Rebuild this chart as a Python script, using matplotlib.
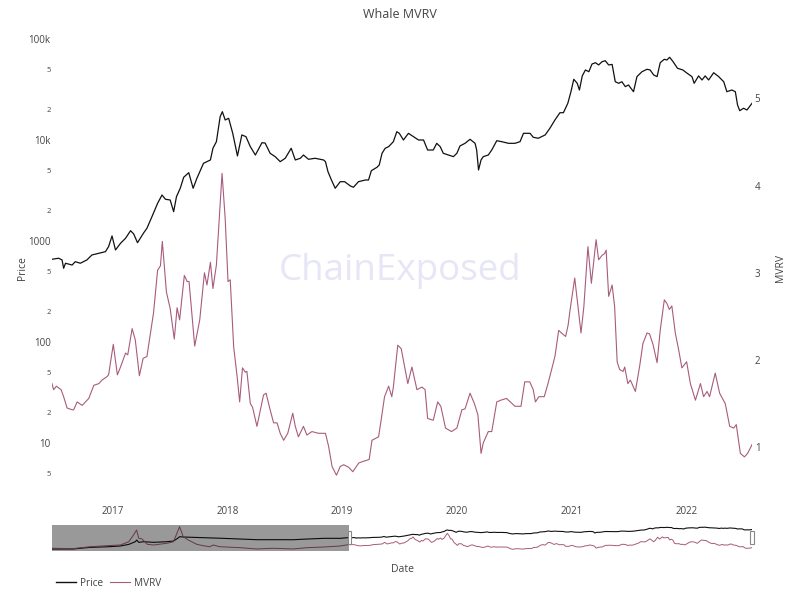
import matplotlib
matplotlib.use("Agg")
import matplotlib.pyplot as plt
import matplotlib.dates as mdates
from matplotlib.patches import Rectangle
from matplotlib.lines import Line2D
from matplotlib.transforms import blended_transform_factory
import pandas as pd

plt.rcParams['font.family'] = ['Open Sans', 'DejaVu Sans']

# MVRV in the visible range
mvrv_dates = [
    '2016-06-22', '2016-06-27', '2016-07-06', '2016-07-21', '2016-07-29', '2016-08-09', '2016-08-25',
    '2016-08-30', '2016-09-10', '2016-09-26', '2016-10-17', '2016-11-02', '2016-11-18', '2016-11-28',
    '2016-12-14', '2016-12-19', '2017-01-03', '2017-01-16', '2017-01-26', '2017-02-11', '2017-02-18',
    '2017-03-04', '2017-03-14', '2017-03-27', '2017-04-08', '2017-04-20', '2017-05-11', '2017-05-24',
    '2017-06-02', '2017-06-08', '2017-06-21', '2017-07-03', '2017-07-16', '2017-07-25', '2017-08-02',
    '2017-08-17', '2017-08-26', '2017-09-01', '2017-09-19', '2017-10-05', '2017-10-20', '2017-10-28',
    '2017-11-08', '2017-11-16', '2017-11-27', '2017-12-15', '2017-12-25', '2018-01-03', '2018-01-10',
    '2018-01-21', '2018-02-01', '2018-02-09', '2018-02-18', '2018-02-27', '2018-03-04', '2018-03-15',
    '2018-03-22', '2018-04-05', '2018-04-26', '2018-05-04', '2018-05-17', '2018-05-28', '2018-06-08',
    '2018-06-18', '2018-06-29', '2018-07-12', '2018-07-28', '2018-08-05', '2018-08-15', '2018-08-31',
    '2018-09-11', '2018-09-27', '2018-10-18', '2018-11-09', '2018-11-19', '2018-11-30', '2018-12-14',
    '2018-12-26', '2019-01-06', '2019-01-22', '2019-02-04', '2019-02-23', '2019-03-10', '2019-03-28',
    '2019-04-06', '2019-04-27', '2019-05-05', '2019-05-16', '2019-05-29', '2019-06-08', '2019-06-13',
    '2019-06-27', '2019-07-08', '2019-07-29', '2019-08-11', '2019-08-27', '2019-09-12', '2019-09-22',
    '2019-09-30', '2019-10-18', '2019-11-01', '2019-11-11', '2019-11-26', '2019-12-15', '2020-01-01',
    '2020-01-17', '2020-01-27', '2020-02-12', '2020-02-26', '2020-03-08', '2020-03-18', '2020-03-25',
    '2020-04-10', '2020-04-21', '2020-05-07', '2020-05-20', '2020-06-07', '2020-07-04', '2020-07-23',
    '2020-08-04', '2020-08-20', '2020-08-31', '2020-09-07', '2020-09-18', '2020-10-05', '2020-10-17',
    '2020-11-08', '2020-11-20', '2020-11-29', '2020-12-12', '2020-12-20', '2020-12-26', '2021-01-10',
    '2021-01-21', '2021-01-30', '2021-02-08', '2021-02-21', '2021-03-04', '2021-03-19', '2021-03-27',
    '2021-04-07', '2021-04-15', '2021-04-20', '2021-04-28', '2021-05-09', '2021-05-17', '2021-05-25',
    '2021-06-02', '2021-06-13', '2021-06-18', '2021-06-28', '2021-07-06', '2021-07-22', '2021-08-05',
    '2021-08-15', '2021-08-28', '2021-09-05', '2021-09-16', '2021-09-29', '2021-10-09', '2021-10-22',
    '2021-10-30', '2021-11-07', '2021-11-15', '2021-11-26', '2021-12-06', '2021-12-17', '2022-01-01',
    '2022-01-13', '2022-01-29', '2022-02-14', '2022-02-24', '2022-03-07', '2022-03-15', '2022-04-02',
    '2022-04-16', '2022-05-04', '2022-05-18', '2022-05-31', '2022-06-08', '2022-06-21', '2022-07-04',
    '2022-07-14', '2022-07-28',
]
mvrv_values = [
    1.73, 1.66, 1.70, 1.66, 1.58, 1.45, 1.43,
    1.43, 1.52, 1.48, 1.56, 1.71, 1.73, 1.77,
    1.81, 1.83, 2.18, 1.83, 1.92, 2.08, 2.06,
    2.36, 2.23, 1.82, 2.02, 2.04, 2.54, 3.03,
    3.08, 3.36, 2.78, 2.59, 2.24, 2.60, 2.46,
    2.97, 2.90, 2.90, 2.16, 2.46, 3.00, 2.86,
    3.12, 2.82, 3.09, 4.14, 3.62, 2.90, 2.92,
    2.15, 1.81, 1.52, 1.91, 1.86, 1.87, 1.50,
    1.46, 1.24, 1.60, 1.62, 1.43, 1.28, 1.28,
    1.16, 1.08, 1.16, 1.39, 1.24, 1.12, 1.24,
    1.14, 1.18, 1.16, 1.16, 1.01, 0.78, 0.68,
    0.78, 0.80, 0.77, 0.72, 0.82, 0.84, 0.86,
    1.08, 1.12, 1.31, 1.58, 1.70, 1.58, 1.69,
    2.17, 2.13, 1.73, 1.92, 1.66, 1.69, 1.66,
    1.33, 1.31, 1.52, 1.47, 1.22, 1.18, 1.22,
    1.43, 1.44, 1.62, 1.50, 1.37, 0.93, 1.05,
    1.18, 1.18, 1.52, 1.54, 1.56, 1.47, 1.47,
    1.75, 1.75, 1.66, 1.52, 1.58, 1.58, 1.73,
    2.04, 2.34, 2.31, 2.27, 2.40, 2.57, 2.94,
    2.59, 2.31, 2.61, 3.30, 2.88, 3.38, 3.15,
    3.20, 3.22, 3.26, 2.73, 2.86, 2.61, 1.98,
    1.89, 1.87, 1.92, 1.73, 1.77, 1.64, 1.94,
    2.19, 2.31, 2.30, 2.18, 1.97, 2.34, 2.69,
    2.65, 2.58, 2.62, 2.31, 2.13, 1.91, 1.98,
    1.73, 1.54, 1.73, 1.58, 1.64, 1.58, 1.85,
    1.62, 1.50, 1.24, 1.22, 1.26, 0.93, 0.89,
    0.93, 1.03,
]

# Price in the visible range
price_dates = [
    '2016-06-22', '2016-07-13', '2016-07-24', '2016-07-29', '2016-08-04', '2016-08-25', '2016-09-04',
    '2016-09-20', '2016-10-11', '2016-10-27', '2016-11-18', '2016-12-09', '2016-12-19', '2016-12-30',
    '2017-01-10', '2017-01-26', '2017-02-11', '2017-02-27', '2017-03-09', '2017-03-21', '2017-04-10',
    '2017-04-20', '2017-05-06', '2017-05-24', '2017-06-07', '2017-06-18', '2017-07-03', '2017-07-14',
    '2017-07-23', '2017-08-04', '2017-08-15', '2017-08-31', '2017-09-14', '2017-09-26', '2017-10-17',
    '2017-11-08', '2017-11-16', '2017-11-27', '2017-12-09', '2017-12-16', '2017-12-25', '2018-01-05',
    '2018-01-18', '2018-02-02', '2018-02-16', '2018-03-01', '2018-03-15', '2018-03-31', '2018-04-21',
    '2018-05-01', '2018-05-17', '2018-06-02', '2018-06-18', '2018-07-04', '2018-07-23', '2018-08-05',
    '2018-08-21', '2018-08-31', '2018-09-16', '2018-10-07', '2018-11-03', '2018-11-09', '2018-11-17',
    '2018-11-28', '2018-12-10', '2018-12-26', '2019-01-09', '2019-01-27', '2019-02-06', '2019-02-22',
    '2019-03-16', '2019-03-26', '2019-04-04', '2019-04-22', '2019-04-29', '2019-05-08', '2019-05-18',
    '2019-05-29', '2019-06-13', '2019-06-24', '2019-07-02', '2019-07-15', '2019-07-31', '2019-08-16',
    '2019-09-01', '2019-09-17', '2019-09-30', '2019-10-18', '2019-10-29', '2019-11-09', '2019-11-19',
    '2019-12-05', '2019-12-21', '2020-01-01', '2020-01-11', '2020-01-27', '2020-02-12', '2020-02-28',
    '2020-03-04', '2020-03-10', '2020-03-18', '2020-03-25', '2020-04-10', '2020-04-21', '2020-05-07',
    '2020-05-23', '2020-06-13', '2020-07-04', '2020-07-20', '2020-07-31', '2020-08-21', '2020-08-31',
    '2020-09-16', '2020-10-08', '2020-10-23', '2020-11-08', '2020-11-24', '2020-12-05', '2020-12-19',
    '2020-12-29', '2021-01-07', '2021-01-18', '2021-01-25', '2021-02-03', '2021-02-13', '2021-02-24',
    '2021-03-06', '2021-03-17', '2021-03-27', '2021-04-07', '2021-04-17', '2021-04-28', '2021-05-09',
    '2021-05-19', '2021-05-30', '2021-06-09', '2021-06-20', '2021-06-30', '2021-07-16', '2021-07-27',
    '2021-08-12', '2021-08-28', '2021-09-07', '2021-09-18', '2021-09-29', '2021-10-09', '2021-10-22',
    '2021-10-30', '2021-11-08', '2021-11-19', '2021-12-03', '2021-12-20', '2022-01-03', '2022-01-18',
    '2022-01-25', '2022-02-08', '2022-02-19', '2022-03-01', '2022-03-12', '2022-03-28', '2022-04-13',
    '2022-04-29', '2022-05-09', '2022-05-25', '2022-06-05', '2022-06-12', '2022-06-19', '2022-07-01',
    '2022-07-12', '2022-07-28',
]
price_values = [
    659, 675, 649, 537, 602, 578, 624,
    602, 649, 727, 755, 784, 879, 1122,
    815, 949, 1064, 1265, 1172, 962, 1208,
    1336, 1741, 2362, 2852, 2588, 2547, 1950,
    2748, 3327, 4276, 4745, 3327, 4178, 5877,
    6340, 8280, 9620, 17020, 19070, 15780, 16400,
    11640, 6950, 11220, 10790, 8590, 7100, 9400,
    9330, 7380, 6840, 6100, 6590, 8280, 6340,
    6590, 7100, 6440, 6590, 6340, 6100, 4853,
    4017, 3327, 3865, 3865, 3508, 3404, 3865,
    4017, 4017, 4966, 5370, 5650, 7380, 8280,
    8590, 9620, 12080, 11640, 10000, 11640, 10790,
    10000, 10000, 7960, 7960, 9270, 8590, 7380,
    7100, 6840, 7380, 8730, 9270, 10160, 9270,
    7960, 5050, 6340, 6840, 7100, 7960, 9840,
    9620, 9270, 9270, 9620, 11640, 11640, 10640,
    10400, 11220, 13060, 15780, 18620, 18620, 23070,
    30060, 39900, 36400, 31260, 43100, 49350, 47440,
    56490, 58250, 55330, 59560, 60950, 55330, 56000,
    37760, 36400, 37760, 33730, 35070, 30060, 42400,
    47440, 50120, 49350, 44060, 42400, 58250, 62950,
    61950, 65890, 59560, 51290, 49350, 45710, 42400,
    36400, 43100, 39280, 43100, 39280, 46350, 42400,
    37760, 30060, 31260, 30060, 22230, 19500, 20610,
    19820, 23070,
]

# earlier history, only shown in the range slider
early_mvrv_dates = [
    '2011-12-20', '2012-04-15', '2012-07-20', '2012-10-20', '2013-01-01', '2013-02-17', '2013-03-15',
    '2013-04-01', '2013-04-13', '2013-05-01', '2013-05-30', '2013-07-05', '2013-09-15', '2013-10-22',
    '2013-11-10', '2013-11-25', '2013-12-15', '2014-01-12', '2014-02-28', '2014-04-04', '2014-05-11',
    '2014-05-30', '2014-07-05', '2014-10-26', '2015-01-26', '2015-04-26', '2015-08-17', '2015-10-30',
    '2016-01-30', '2016-05-01',
]
early_mvrv = [
    0.90, 0.83, 1.24, 1.46, 1.61, 2.32, 3.78,
    4.86, 3.06, 2.92, 1.76, 1.61, 1.98, 2.32,
    4.14, 5.57, 3.41, 2.69, 1.76, 1.46, 1.24,
    1.61, 1.24, 1.03, 0.75, 0.90, 0.75, 1.03,
    1.17, 1.39,
]
early_price_dates = [
    '2011-12-20', '2012-04-15', '2012-07-20', '2012-10-20', '2013-01-01', '2013-02-17', '2013-03-25',
    '2013-04-02', '2013-04-13', '2013-05-11', '2013-07-05', '2013-09-15', '2013-10-22', '2013-11-14',
    '2013-11-25', '2013-12-18', '2014-02-10', '2014-04-22', '2014-07-24', '2014-10-26', '2015-01-26',
    '2015-04-26', '2015-08-17', '2015-10-30', '2016-01-30', '2016-05-01', '2016-06-10',
]
early_price = [
    4.5, 4.6, 9.5, 12, 17, 35, 112,
    234, 85, 112, 85, 112, 150, 490,
    1000, 870, 760, 650, 490, 360, 270,
    270, 270, 360, 490, 490, 650,
]

price_ticks = [5, 10, 20, 50, 100, 200, 500, 1000, 2000, 5000, 10000, 20000, 50000, 100000]
price_labels = ['5', '10', '2', '5', '100', '2', '5', '1000', '2', '5', '10k', '2', '5', '100k']
mvrv_ticks = [1, 2, 3, 4, 5]
year_ticks = ['2017-01-01', '2018-01-01', '2019-01-01', '2020-01-01', '2021-01-01', '2022-01-01']

PRICE_COLOR = '#111111'
MVRV_COLOR = '#a85c7c'
TEXT_COLOR = '#444444'

md = pd.to_datetime(mvrv_dates)
pd_ = pd.to_datetime(price_dates)

fig = plt.figure(figsize=(8, 5.94), dpi=100)
W, H = 800, 594

# main panel
ax = fig.add_axes([52 / W, (H - 495) / H, 700 / W, 465 / H])
ax2 = ax.twinx()

ax.plot(pd_, price_values, color=PRICE_COLOR, lw=0.9, zorder=3)
ax2.plot(md, mvrv_values, color=MVRV_COLOR, lw=0.8, zorder=2)

ax.set_yscale('log')
ax.set_ylim(10 ** 0.485, 10 ** 5.089)
ax.yaxis.set_minor_locator(plt.NullLocator())
ax.set_yticks(price_ticks)
ax.set_yticklabels(price_labels)
for lab in ax.get_yticklabels():
    lab.set_fontsize(5.5 if lab.get_text() in ('2', '5') else 7)

ax2.set_ylim(0.453, 5.783)
ax2.set_yticks(mvrv_ticks)
ax2.set_yticklabels([str(t) for t in mvrv_ticks])

ax.set_xlim(md.min(), md.max())
ax.set_xticks(pd.to_datetime(year_ticks))
ax.xaxis.set_major_formatter(mdates.DateFormatter('%Y'))
ax.xaxis.set_minor_locator(plt.NullLocator())

ax.tick_params(axis='x', length=0, pad=8, labelsize=7, colors=TEXT_COLOR)
ax.tick_params(axis='y', length=0, pad=1, colors=TEXT_COLOR)
ax2.tick_params(axis='y', length=0, pad=2, labelsize=7, colors=TEXT_COLOR)
for a in (ax, ax2):
    for s in a.spines.values():
        s.set_visible(False)

ax.text(0.5, 1 - 271 / H, 'ChainExposed', transform=fig.transFigure, ha='center', va='center',
        fontsize=26.5, color='#e6e6f7', zorder=0.5)

fig.text(0.5, 1 - 14 / H, 'Whale MVRV', ha='center', va='center', fontsize=9, color=TEXT_COLOR)
fig.text(22 / W, 1 - 268 / H, 'Price', rotation=90, ha='center', va='center', fontsize=7.5, color=TEXT_COLOR)
fig.text(781 / W, 1 - 268 / H, 'MVRV', rotation=90, ha='center', va='center', fontsize=7.5, color=TEXT_COLOR)
fig.text(403 / W, 1 - 569 / H, 'Date', ha='center', va='center', fontsize=7.5, color=TEXT_COLOR)

# range slider
sl = fig.add_axes([52 / W, (H - 551) / H, 700 / W, 26 / H])
sl2 = sl.twinx()
all_pd = pd.to_datetime(early_price_dates + price_dates)
all_md = pd.to_datetime(early_mvrv_dates + mvrv_dates)
sl.plot(all_pd, early_price + price_values, color=PRICE_COLOR, lw=0.8)
sl2.plot(all_md, early_mvrv + mvrv_values, color=MVRV_COLOR, lw=0.7)
sl.set_yscale('log')
sl.set_ylim(10 ** 0.28, 10 ** 5.23)
sl2.set_ylim(0.31, 5.94)
sl.set_xlim(min(all_pd.min(), all_md.min()), max(all_pd.max(), all_md.max()))
for a in (sl, sl2):
    a.set_xticks([])
    a.set_yticks([])
    a.yaxis.set_minor_locator(plt.NullLocator())
    for s in a.spines.values():
        s.set_visible(False)
sl2.axvspan(sl.get_xlim()[0], mdates.date2num(md.min()), color='black', alpha=0.4, lw=0, zorder=5)
tr = blended_transform_factory(sl2.transData, sl2.transAxes)
for d in (md.min(), md.max()):
    x0 = mdates.date2num(d)
    sl2.add_patch(Rectangle((x0 - 9, 0.27), 18, 0.5, transform=tr, facecolor='white',
                            edgecolor='#888888', lw=0.8, zorder=6, clip_on=False))

# legend
handles = [Line2D([], [], color=PRICE_COLOR, lw=1.0), Line2D([], [], color=MVRV_COLOR, lw=0.8)]
fig.legend(handles, ['Price', 'MVRV'], loc='center left', bbox_to_anchor=(52 / W, 1 - 583 / H),
           ncol=2, frameon=False, fontsize=7.2, labelcolor=TEXT_COLOR, handlelength=2.0,
           handletextpad=0.4, columnspacing=0.7, borderaxespad=0)

fig.savefig('out.png', dpi=100)
